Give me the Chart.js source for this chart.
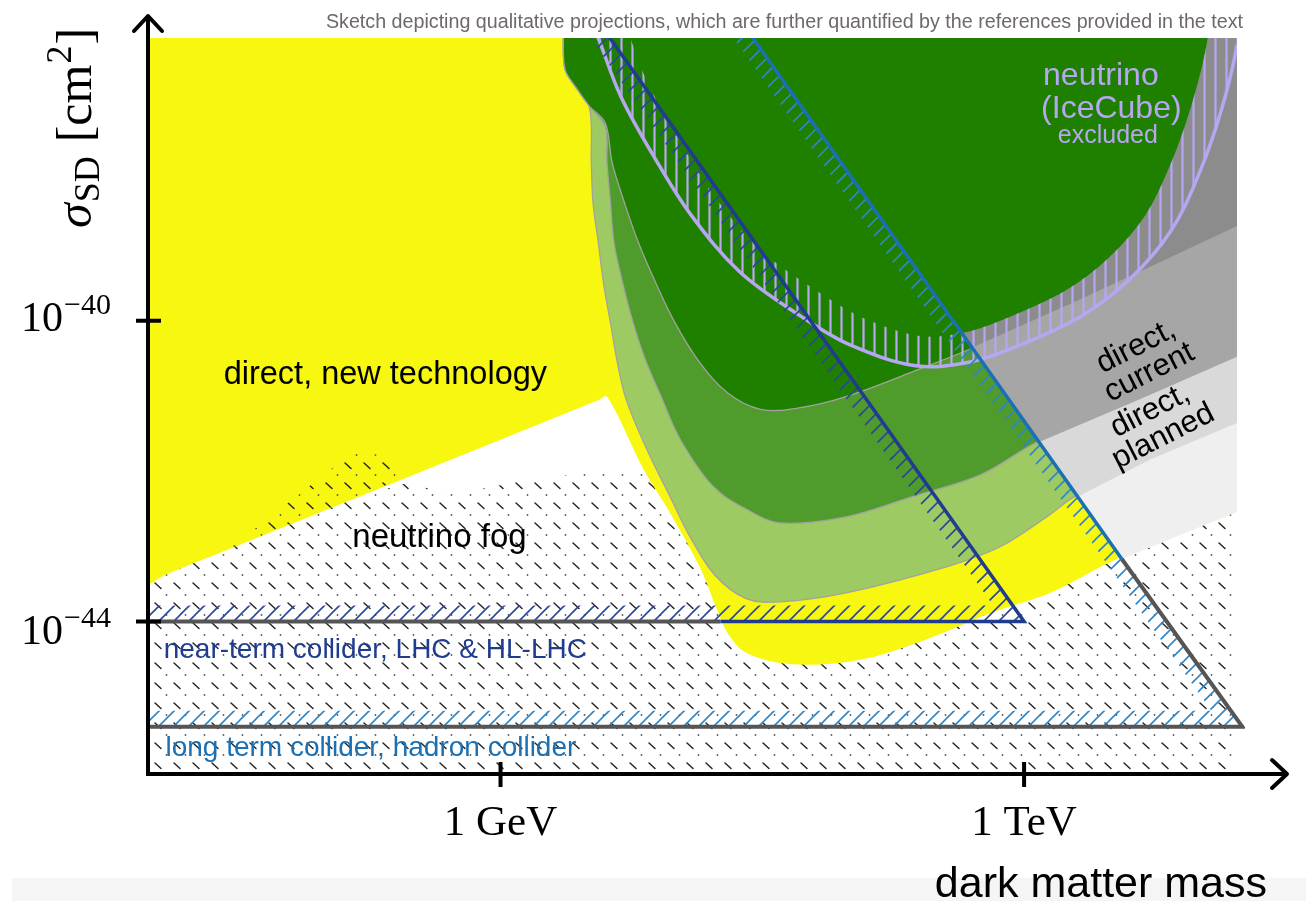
<!DOCTYPE html>
<html lang="en">
<head>
<meta charset="utf-8">
<title>Spin-dependent cross section: qualitative projections</title>
<script src="https://cdn.jsdelivr.net/npm/chart.js@4.4.0/dist/chart.umd.min.js"></script>
<style>
  html, body { margin: 0; padding: 0; background: #fff; }
  #sketch { display: block; }
</style>
</head>
<body>
<canvas id="sketch" width="1306" height="901"></canvas>
<script>
// x = log10(m / GeV), y = log10(sigma_SD / cm^2)
const X_MIN = -2.02, X_MAX = 4.22;
const Y_MIN = -46.03, Y_MAX = -36.24;
const X_TICKS = [0, 3];
const X_TICK_LABELS = ['1 GeV', '1 TeV'];
const Y_TICKS = [-40, -44];
const Y_TICK_EXPONENTS = ['\u221240', '\u221244'];

// regions run past the frame so the frame cuts them
const TOP = -35.5;
const RIGHT = 4.55;

// lower edge of the already excluded band (dark green / dark grey)
const excludedX = [0.36, 0.36, 0.37, 0.43, 0.51, 0.60, 0.64, 0.71, 0.79, 0.89, 1.00, 1.13, 1.30, 1.49, 1.71, 1.98, 2.36, 2.75, 3.32, 3.78, 4.22, 4.55];
const excludedY = [-35.5, -36.26, -36.66, -36.89, -37.15, -37.37, -37.90, -38.43, -38.96, -39.50, -40.03, -40.52, -40.96, -41.18, -41.16, -41.01, -40.68, -40.32, -39.72, -39.22, -38.74, -38.35];

// lower edge of "direct, current"
const currentX = [0.36, 0.36, 0.37, 0.43, 0.51, 0.60, 0.61, 0.63, 0.65, 0.70, 0.76, 0.83, 0.92, 1.03, 1.22, 1.41, 1.60, 1.98, 2.36, 2.75, 3.08, 3.66, 4.22, 4.55];
const currentY = [-35.5, -36.26, -36.66, -36.89, -37.15, -37.42, -37.90, -38.43, -38.96, -39.50, -40.03, -40.52, -41.01, -41.58, -42.21, -42.51, -42.69, -42.61, -42.34, -42.05, -41.61, -41.05, -40.48, -40.10];

// lower edge of "direct, planned"
const plannedX = [0.36, 0.36, 0.37, 0.43, 0.51, 0.52, 0.53, 0.56, 0.59, 0.63, 0.67, 0.72, 0.84, 0.98, 1.08, 1.23, 1.41, 1.60, 1.98, 2.56, 2.86, 3.13, 3.29, 3.72, 4.22, 4.55];
const plannedY = [-35.5, -36.26, -36.66, -36.89, -37.17, -37.90, -38.43, -38.96, -39.50, -40.03, -40.56, -41.05, -41.72, -42.38, -42.85, -43.39, -43.70, -43.74, -43.62, -43.27, -43.01, -42.61, -42.34, -41.85, -41.36, -41.00];

// lower edge of "direct, new technology"
const newTechX = [-2.02, -1.92, 0.56, 0.61, 0.82, 0.97, 1.14, 1.24, 1.30, 1.41, 1.67, 2.06, 2.44, 2.82, 3.15, 3.55, 4.22, 4.55];
const newTechY = [-43.47, -43.38, -41.06, -41.01, -41.98, -42.55, -43.27, -43.84, -44.15, -44.42, -44.57, -44.51, -44.24, -43.88, -43.62, -43.15, -42.54, -42.21];

// the same bands beyond the long-term collider reach (grey)
const newTechGrayX = [1.22, 3.56, 4.22, 4.55, 4.55];
const newTechGrayY = [TOP, -43.17, -42.54, -42.21, TOP];
const plannedGrayX = [1.22, 3.31, 3.72, 4.22, 4.55, 4.55];
const plannedGrayY = [TOP, -42.34, -41.85, -41.36, -41.00, TOP];
const currentGrayX = [1.22, 3.09, 3.66, 4.22, 4.55, 4.55];
const currentGrayY = [TOP, -41.61, -41.05, -40.48, -40.10, TOP];
const excludedGrayX = [1.22, 2.70, 3.32, 3.78, 4.22, 4.55, 4.55];
const excludedGrayY = [TOP, -40.36, -39.72, -39.22, -38.74, -38.35, TOP];

// IceCube exclusion boundary
const iceCubeX = [0.43, 0.56, 0.69, 0.89, 1.09, 1.37, 1.72, 2.00, 2.38, 2.69, 2.94, 3.32, 3.60, 3.84, 4.00, 4.13, 4.22, 4.25];
const iceCubeY = [-35.5, -36.24, -37.02, -37.86, -38.59, -39.35, -39.94, -40.32, -40.60, -40.55, -40.36, -39.95, -39.46, -38.81, -38.06, -37.20, -36.33, -35.5];

// neutrino fog
const fogX = [-2.1, -2.1, -0.52, -0.46, -0.18, 0.11, 0.43, 0.80, 1.14, 4.3, 4.3];
const fogY = [-46.2, -43.18, -42.15, -42.22, -42.27, -42.14, -42.04, -42.01, -41.98, -41.98, -46.2];
const fogPatchX = [-1.55, -0.82, -0.58, -0.52];
const fogPatchY = [-43.03, -41.70, -41.88, -42.06];

// collider reach (triangles)
const nearTermX = [-2.3, 3.00, 0.40, -2.3];
const nearTermY = [-44, -44, TOP, TOP];
const longTermX = [-2.3, 4.25, 1.22, -2.3];
const longTermY = [-45.40, -45.40, TOP, TOP];

const YELLOW = '#f7f710';
const DARK_GREEN = '#1f8000';
const MID_GREEN = '#4f9b2c';
const LIGHT_GREEN = '#9dca62';
const LAVENDER = '#b7a6f1';
const NAVY = '#203c8f';
const SKY = '#1a70b3';
const LINE_GRAY = '#555555';
const SANS = '"Liberation Sans", Arial, Helvetica, sans-serif';
const SERIF = '"Liberation Serif", "Times New Roman", serif';

const toPoints = (xs, ys) => xs.map((x, i) => ({ x, y: ys[i] }));

function makeTile(w, h, draw) {
  const c = document.createElement('canvas');
  c.width = w; c.height = h;
  const g = c.getContext('2d');
  draw(g, w, h);
  return g.createPattern(c, 'repeat');
}

// "/" hatching for collider limits
const slashHatch = (color, gap) => makeTile(gap, gap, (g, s) => {
  g.strokeStyle = color; g.lineWidth = 1.6;
  g.beginPath();
  g.moveTo(0, s); g.lineTo(s, 0);
  g.moveTo(-2, 2); g.lineTo(2, -2);
  g.moveTo(s - 2, s + 2); g.lineTo(s + 2, s - 2);
  g.stroke();
});

// vertical ticks for the IceCube boundary
const barHatch = (color, gap, width) => makeTile(gap, 4, (g, w, h) => {
  g.fillStyle = color;
  g.fillRect(w / 2 - width / 2, 0, width, h);
});

const fogDots = makeTile(19, 20, g => {
  g.strokeStyle = '#262626'; g.lineWidth = 1.5; g.lineCap = 'round';
  g.beginPath(); g.moveTo(3, 3); g.lineTo(9, 8.5); g.stroke();
  g.fillStyle = '#5a5a5a';
  g.beginPath(); g.arc(14.5, 15, 0.9, 0, Math.PI * 2); g.fill();
});

const region = (label, xs, ys, area, extra = {}) =>
  Object.assign({ label, data: toPoints(xs, ys), area, borderWidth: 0, tension: 0 }, extra);
const stroke = (label, xs, ys, color, width) => ({
  label, data: toPoints(xs, ys), borderColor: color, borderWidth: width, tension: 0,
  clip: { left: 0, top: 0, right: 8, bottom: 4 }
});

const bandEdge = { borderColor: '#a2a2a2', borderWidth: 1.3, tension: 0.35 };

// painted back to front
const layers = [
  region('neutrino fog', fogX, fogY, { fill: fogDots }),
  region('direct, new technology', [X_MIN, ...newTechX, RIGHT], [TOP, ...newTechY, TOP], { fill: YELLOW }, { tension: 0.35 }),
  region('fog edge', fogPatchX, fogPatchY, { fill: fogDots }),
  region('direct, planned', [...plannedX, RIGHT], [...plannedY, TOP], { fill: LIGHT_GREEN }, bandEdge),
  region('direct, current', [...currentX, RIGHT], [...currentY, TOP], { fill: MID_GREEN }, bandEdge),
  region('excluded', [...excludedX, RIGHT], [...excludedY, TOP], { fill: DARK_GREEN }, bandEdge),
  region('new technology, beyond colliders', newTechGrayX, newTechGrayY, { fill: '#efefef' }),
  region('planned, beyond colliders', plannedGrayX, plannedGrayY, { fill: '#d9d9d9' }),
  region('current, beyond colliders', currentGrayX, currentGrayY, { fill: '#a6a6a6' }),
  region('excluded, beyond colliders', excludedGrayX, excludedGrayY, { fill: '#8c8c8c' }),
  region('neutrino (IceCube) excluded', iceCubeX, iceCubeY,
    { fill: DARK_GREEN, hatch: barHatch(LAVENDER, 11, 2.2), band: 30, cut: true },
    { borderColor: LAVENDER, borderWidth: 3.5, tension: 0.35 }),
  region('long term collider reach', longTermX, longTermY, { hatch: slashHatch('#2f86c8', 15), band: 16 }),
  region('near-term collider reach', nearTermX, nearTermY, { hatch: slashHatch('#2b4797', 15), band: 16 }),
  stroke('long term edge', [-2.1, 4.25, 3.56], [-45.40, -45.40, -43.17], LINE_GRAY, 4),
  stroke('long term diagonal', [3.56, 1.22], [-43.17, TOP], SKY, 3.5),
  stroke('near-term floor', [-2.1, 1.26], [-44, -44], LINE_GRAY, 4),
  stroke('near-term edge', [1.26, 3.00, 0.40], [-44, -44, TOP], NAVY, 3.5)
];
layers.forEach((d, i) => { d.order = layers.length - i; });

// fills (and hatch bands along the inside of the outline) from the line's own path
const regionFill = {
  id: 'regionFill',
  beforeDatasetDraw(chart, args) {
    const area = chart.data.datasets[args.index].area;
    if (!area) return;
    const line = args.meta.dataset;
    const a = chart.chartArea;
    line.updateControlPoints(a);
    const off = document.createElement('canvas');
    off.width = chart.canvas.width;
    off.height = chart.canvas.height;
    const o = off.getContext('2d');
    o.beginPath();
    line.path(o);
    o.closePath();
    if (area.fill) { o.fillStyle = area.fill; o.fill(); }
    if (area.hatch) {
      o.save();
      o.clip();
      o.lineWidth = area.band * 2;
      o.lineJoin = 'round';
      if (area.cut) {
        o.globalCompositeOperation = 'destination-out';
        o.stroke();
        o.globalCompositeOperation = 'source-over';
      }
      o.strokeStyle = area.hatch;
      o.stroke();
      o.restore();
    }
    const ctx = chart.ctx;
    ctx.save();
    ctx.beginPath();
    ctx.rect(a.left, a.top, a.right - a.left, a.bottom - a.top);
    ctx.clip();
    ctx.drawImage(off, 0, 0, chart.width, chart.height);
    ctx.restore();
  }
};

// text placed in data coordinates
const NOTES = [
  { lines: ['direct, new technology'], x: -0.66, y: -40.84, size: 32.5, color: '#000' },
  { lines: ['neutrino fog'], x: -0.35, y: -43.01, size: 33, color: '#000' },
  { lines: ['neutrino'], x: 3.44, y: -36.87, size: 32, color: LAVENDER },
  { lines: ['(IceCube)'], x: 3.50, y: -37.30, size: 32, color: LAVENDER },
  { lines: ['excluded'], x: 3.48, y: -37.64, size: 25, color: LAVENDER },
  { lines: ['direct,', 'current'], x: 3.68, y: -40.52, size: 31, color: '#000', angle: -27, lead: 29 },
  { lines: ['direct,', 'planned'], x: 3.76, y: -41.37, size: 31, color: '#000', angle: -27, lead: 29 },
  { lines: ['near-term collider, LHC & HL-LHC'], x: -1.93, y: -44.49, size: 28, color: NAVY, align: 'left' },
  { lines: ['long term collider, hadron collider'], x: -1.92, y: -45.79, size: 28, color: SKY, align: 'left' }
];
const Y_LABEL_DROP = [10, 23];

const decor = {
  id: 'decor',
  beforeDraw(chart) {
    const ctx = chart.ctx;
    ctx.save();
    ctx.fillStyle = '#f5f5f5';
    ctx.fillRect(12, chart.height - 23, chart.width - 12, 23);
    ctx.restore();
  },
  afterDatasetsDraw(chart) {
    const { ctx, scales: { x, y } } = chart;
    ctx.save();
    NOTES.forEach(n => {
      ctx.fillStyle = n.color;
      ctx.font = `${n.size}px ${SANS}`;
      const px = x.getPixelForValue(n.x), py = y.getPixelForValue(n.y);
      if (n.angle) {
        ctx.save();
        ctx.translate(px, py);
        ctx.rotate(n.angle * Math.PI / 180);
        ctx.textAlign = 'center';
        ctx.textBaseline = 'middle';
        n.lines.forEach((t, i) => ctx.fillText(t, 0, (i - (n.lines.length - 1) / 2) * n.lead));
        ctx.restore();
      } else {
        ctx.textAlign = n.align || 'center';
        ctx.textBaseline = 'alphabetic';
        ctx.fillText(n.lines[0], px, py);
      }
    });
    ctx.restore();
  },
  afterDraw(chart) {
    const { ctx, chartArea: a, scales: { x, y } } = chart;
    ctx.save();
    ctx.strokeStyle = '#000';
    ctx.fillStyle = '#000';
    ctx.lineWidth = 4;

    // axes with open arrow heads
    ctx.beginPath();
    ctx.moveTo(a.left, a.bottom + 2);
    ctx.lineTo(a.left, a.top - 22);
    ctx.moveTo(a.left - 2, a.bottom);
    ctx.lineTo(a.right + 49, a.bottom);
    ctx.stroke();
    ctx.lineJoin = 'round';
    ctx.lineCap = 'round';
    ctx.beginPath();
    ctx.moveTo(a.left - 14, a.top - 7);
    ctx.lineTo(a.left, a.top - 22);
    ctx.lineTo(a.left + 14, a.top - 7);
    ctx.moveTo(a.right + 35, a.bottom - 14);
    ctx.lineTo(a.right + 50, a.bottom);
    ctx.lineTo(a.right + 35, a.bottom + 14);
    ctx.stroke();
    ctx.lineCap = 'butt';

    // ticks
    ctx.beginPath();
    X_TICKS.forEach(v => {
      const px = x.getPixelForValue(v);
      ctx.moveTo(px, a.bottom - 12);
      ctx.lineTo(px, a.bottom + 13);
    });
    Y_TICKS.forEach(v => {
      const py = y.getPixelForValue(v);
      ctx.moveTo(a.left - 12, py);
      ctx.lineTo(a.left + 13, py);
    });
    ctx.stroke();

    // tick labels
    ctx.textBaseline = 'alphabetic';
    ctx.textAlign = 'center';
    ctx.font = `43px ${SERIF}`;
    X_TICKS.forEach((v, i) => ctx.fillText(X_TICK_LABELS[i], x.getPixelForValue(v), a.bottom + 61));
    Y_TICKS.forEach((v, i) => {
      const base = y.getPixelForValue(v) + Y_LABEL_DROP[i];
      ctx.textAlign = 'right';
      ctx.font = `42px ${SERIF}`;
      ctx.fillText('10', a.left - 85, base);
      ctx.textAlign = 'left';
      ctx.font = `30px ${SERIF}`;
      ctx.fillText(Y_TICK_EXPONENTS[i], a.left - 84, base - 17);
    });

    // y title: sigma_SD [cm^2], reading upwards
    ctx.save();
    ctx.translate(a.left - 57, a.top + 190);
    ctx.rotate(-Math.PI / 2);
    ctx.textAlign = 'left';
    let cx = 0;
    ctx.font = `italic 50px ${SERIF}`;
    ctx.fillText('\u03c3', cx, 0);
    cx += ctx.measureText('\u03c3').width + 1;
    ctx.font = `36px ${SERIF}`;
    ctx.fillText('SD', cx, 8);
    cx += ctx.measureText('SD').width + 14;
    ctx.font = `50px ${SERIF}`;
    ctx.fillText('[cm', cx, 0);
    cx += ctx.measureText('[cm').width + 1;
    ctx.font = `36px ${SERIF}`;
    ctx.fillText('2', cx, -20);
    cx += ctx.measureText('2').width + 1;
    ctx.font = `50px ${SERIF}`;
    ctx.fillText(']', cx, 0);
    ctx.restore();

    // x title
    ctx.textAlign = 'right';
    ctx.font = `43px ${SANS}`;
    ctx.fillText('dark matter mass', a.right + 30, a.bottom + 123);

    // caption above the frame
    ctx.fillStyle = '#6f6868';
    ctx.font = `19.7px ${SANS}`;
    ctx.fillText('Sketch depicting qualitative projections, which are further quantified by the references provided in the text', a.right + 6, a.top - 10);
    ctx.restore();
  }
};

new Chart(document.getElementById('sketch'), {
  type: 'scatter',
  data: { datasets: layers },
  options: {
    responsive: false,
    animation: false,
    events: [],
    layout: { padding: { left: 148, top: 38, right: 69, bottom: 127 } },
    datasets: { scatter: { showLine: true, pointRadius: 0 } },
    elements: { line: { capBezierPoints: false }, point: { radius: 0 } },
    scales: {
      x: { type: 'linear', min: X_MIN, max: X_MAX, display: false },
      y: { type: 'linear', min: Y_MIN, max: Y_MAX, display: false }
    },
    plugins: { legend: { display: false }, tooltip: { enabled: false } }
  },
  plugins: [regionFill, decor]
});
</script>
</body>
</html>
